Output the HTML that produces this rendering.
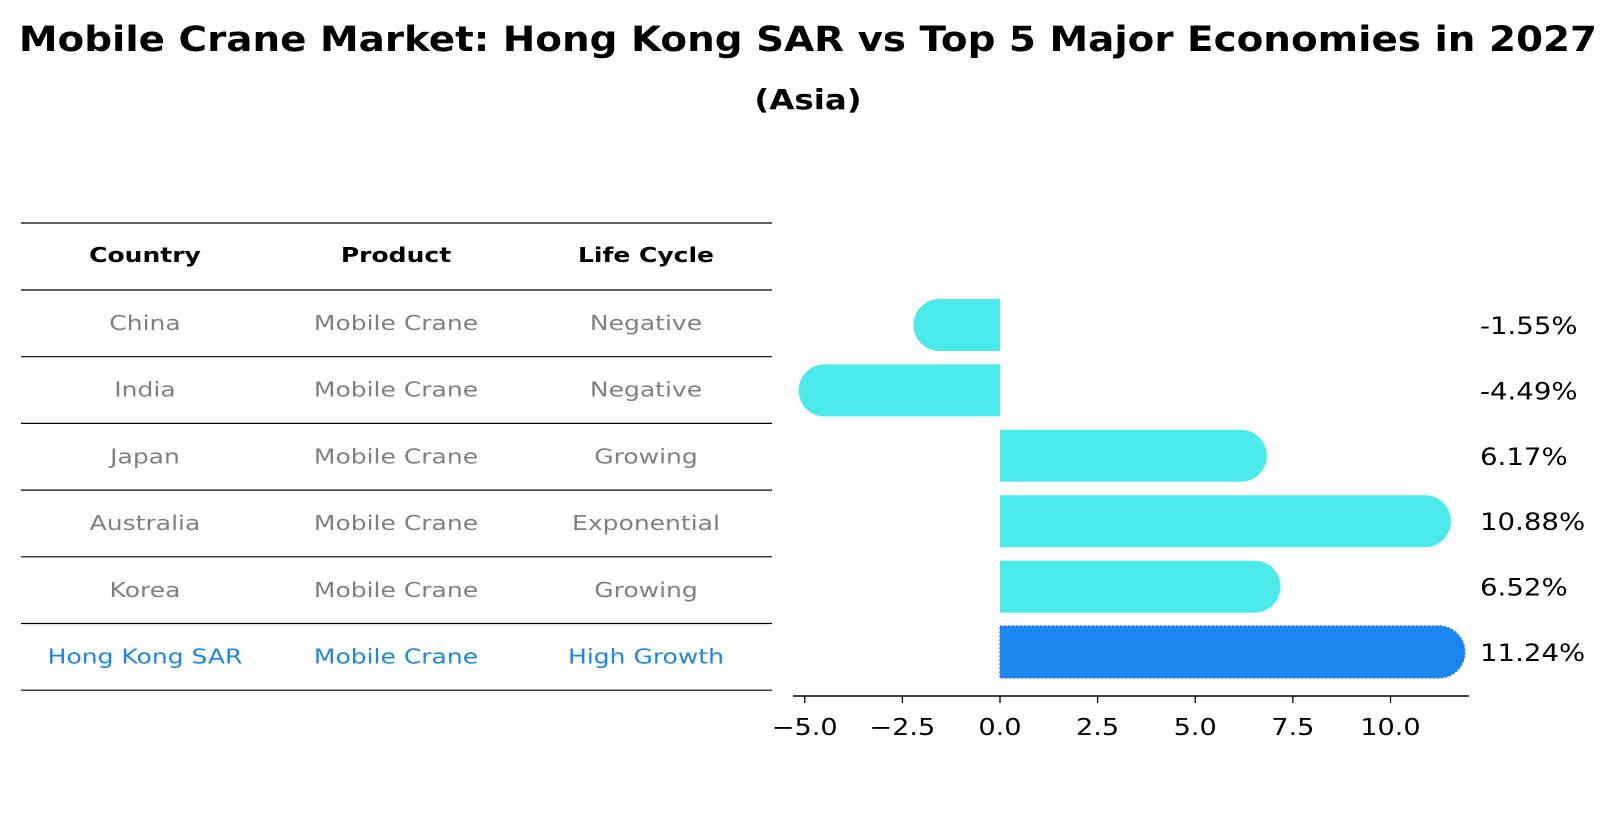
<!DOCTYPE html>
<html><head><meta charset="utf-8"><style>
body{margin:0;background:#fff;width:1617px;height:823px;overflow:hidden;font-family:"DejaVu Sans","Liberation Sans",sans-serif}
</style></head><body>
<svg id="svg" width="1617" height="823" xmlns="http://www.w3.org/2000/svg" font-family="DejaVu Sans, Liberation Sans, sans-serif">
<text id="title" x="808" y="51" text-anchor="middle" font-size="35" font-weight="bold">Mobile Crane Market: Hong Kong SAR vs Top 5 Major Economies in 2027</text>
<text id="subtitle" x="808" y="109" text-anchor="middle" font-size="28" font-weight="bold">(Asia)</text>
<g id="table"></g>
<g id="bars"></g>
</svg>
<script>
const countries=["China","India","Japan","Australia","Korea","Hong Kong SAR"];
const products=["Mobile Crane","Mobile Crane","Mobile Crane","Mobile Crane","Mobile Crane","Mobile Crane"];
const lifeCycles=["Negative","Negative","Growing","Exponential","Growing","High Growth"];
const values=[-1.55,-4.49,6.17,10.88,6.52,11.24];
const valueLabels=["-1.55%","-4.49%","6.17%","10.88%","6.52%","11.24%"];
const ticks=[-5,-2.5,0,2.5,5,7.5,10];
const tickLabels=["\u22125.0","\u22122.5","0.0","2.5","5.0","7.5","10.0"];
const NS="http://www.w3.org/2000/svg";
function mk(tag,attrs,parent,text){const e=document.createElementNS(NS,tag);for(const k in attrs)e.setAttribute(k,attrs[k]);if(text!==undefined)e.textContent=text;parent.appendChild(e);return e;}
function widen(t,f){const w=t.getComputedTextLength();if(w>0){t.setAttribute('textLength',(w*f).toFixed(1));t.setAttribute('lengthAdjust','spacingAndGlyphs');}}
widen(document.getElementById('title'),1.11);
widen(document.getElementById('subtitle'),1.16);
const x=v=>1000+v*39.05;
const rowY=i=>325+i*65.4;
const tbl=document.getElementById('table');
const lineYs=[223,290];for(let i=0;i<countries.length;i++)lineYs.push(290+(i+1)*66.7);
lineYs.forEach((y,i)=>{const l=mk('line',{x1:21,x2:772,y1:y,y2:y,stroke:'#000','stroke-width':1.2},tbl);

});
const cols=[145,396,646];
["Country","Product","Life Cycle"].forEach((h,i)=>{const t=mk('text',{x:cols[i],y:262,'text-anchor':'middle','font-size':20,'font-weight':'bold'},tbl,h);


widen(t,1.25);});
countries.forEach((c,i)=>{const y=290+i*66.7+40;const hl=i===countries.length-1;const col=hl?'#1a86e8':'#808080';
[c,products[i],lifeCycles[i]].forEach((s,j)=>{const t=mk('text',{x:cols[j],y:y,'text-anchor':'middle','font-size':20,fill:col},tbl,s);


widen(t,1.25);});});
const g=document.getElementById('bars');
const h=52,r=26;
values.forEach((v,i)=>{const cy=rowY(i),top=cy-h/2,x0=x(0),x1=x(v);const hl=i===values.length-1;
let d;
if(v>=0)d=`M${x0},${top} L${x1},${top} A${r},${r} 0 0 1 ${x1},${top+h} L${x0},${top+h} Z`;
else d=`M${x0},${top} L${x1},${top} A${r},${r} 0 0 0 ${x1},${top+h} L${x0},${top+h} Z`;
const p=mk('path',{d:d,fill:hl?'#1a86f0':'#4aeaea',stroke:hl?'#3a7ad0':'none','stroke-width':hl?1.5:0,'stroke-dasharray':hl?'2,2':''},g);


const t=mk('text',{x:1480,y:cy+9,'font-size':24},g,valueLabels[i]);


widen(t,1.15);});
const ax=mk('line',{x1:793,x2:1469,y1:696,y2:696,stroke:'#000','stroke-width':1.5},g);


ticks.forEach((tv,i)=>{const tl=mk('line',{x1:x(tv),x2:x(tv),y1:696,y2:703,stroke:'#000','stroke-width':1.3},g);


const t=mk('text',{x:x(tv),y:735,'text-anchor':'middle','font-size':23},g,tickLabels[i]);


widen(t,1.18);});
</script>
</body></html>
